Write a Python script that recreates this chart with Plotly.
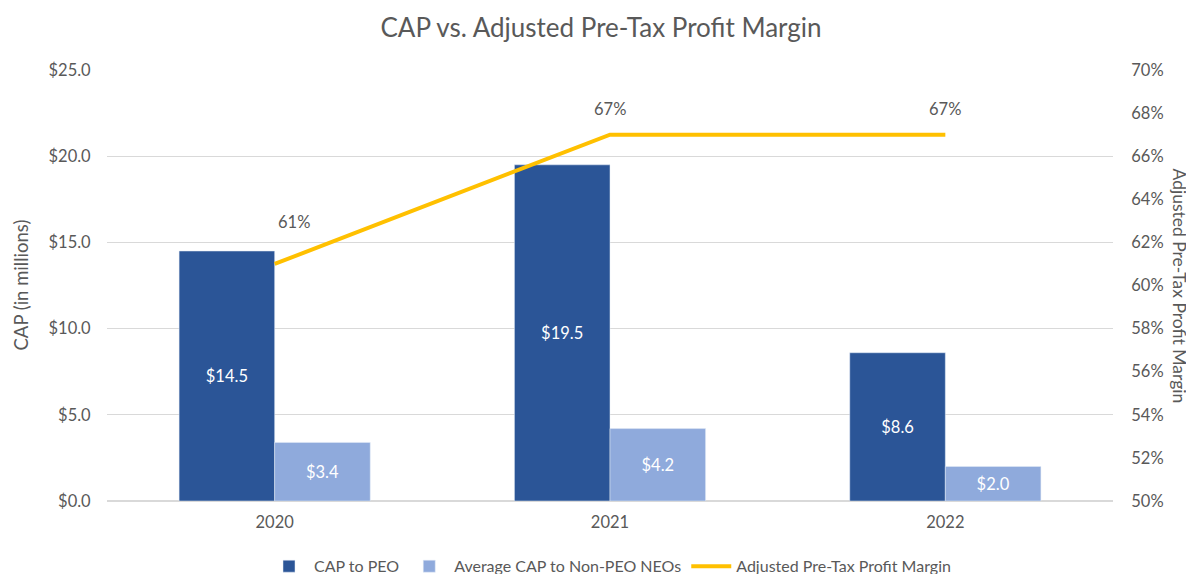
import plotly.graph_objects as go

years = ["2020", "2021", "2022"]
cap_peo = [14.5, 19.5, 8.6]
cap_neo = [3.4, 4.2, 2.0]
margin_pct = [61, 67, 67]

label_xshift = [19, 0, 0]
label_yshift = [42, 26, 26]

FONT = "Lato"
GRAY = "#595959"

fig = go.Figure()
fig.add_trace(go.Bar(
    x=years, y=cap_peo, name="CAP to PEO",
    marker=dict(color="#2B5597"),
    text=[f"${v:.1f}" for v in cap_peo], textposition="inside",
    insidetextanchor="middle", textfont=dict(color="white", size=16.5, family=FONT),
    textangle=0,
))
fig.add_trace(go.Bar(
    x=years, y=cap_neo, name="Average CAP to Non-PEO NEOs",
    marker=dict(color="#8FAADC"),
    text=[f"${v:.1f}" for v in cap_neo], textposition="inside",
    insidetextanchor="middle", textfont=dict(color="white", size=16.5, family=FONT),
    textangle=0,
))
fig.add_trace(go.Scatter(
    x=years, y=margin_pct, name="Adjusted Pre-Tax Profit Margin",
    mode="lines", line=dict(color="#FFC000", width=4), yaxis="y2",
))

for i, (v, xs, ys) in enumerate(zip(margin_pct, label_xshift, label_yshift)):
    fig.add_annotation(x=i, y=v, xref="x", yref="y2", text=f"{v}%",
                       showarrow=False, xshift=xs, yshift=ys,
                       font=dict(size=16.5, color=GRAY, family=FONT))

fig.add_annotation(x=1.0, xref="paper", xanchor="center", xshift=66, y=0.5, yref="paper",
                   yanchor="middle",
                   text="Adjusted Pre-Tax Profit Margin", textangle=90,
                   showarrow=False, font=dict(size=17.5, color=GRAY, family=FONT))
fig.add_annotation(x=0.0, xref="paper", xanchor="center", xshift=-87, y=0.5, yref="paper",
                   yanchor="middle",
                   text="CAP (in millions)", textangle=-90,
                   showarrow=False, font=dict(size=18.5, color=GRAY, family=FONT))

fig.update_layout(
    width=1186, height=566,
    margin=dict(l=99, r=81, t=62, b=73, autoexpand=False),
    paper_bgcolor="white", plot_bgcolor="white",
    font=dict(family=FONT, color=GRAY, size=16),
    title=dict(text="CAP vs. Adjusted Pre-Tax Profit Margin", x=0.5, xanchor="center",
               y=0.965, yanchor="middle", font=dict(size=26, color=GRAY, family=FONT)),
    barmode="group", bargap=0.43, bargroupgap=0,
    showlegend=True,
    legend=dict(orientation="h", x=0.5, xanchor="center", y=-0.112, yanchor="top",
                itemwidth=40, font=dict(size=16, color=GRAY, family=FONT),
                traceorder="normal"),
    xaxis=dict(type="category", showgrid=False, showline=False,
               ticks="outside", ticklen=6, tickcolor="rgba(0,0,0,0)",
               tickfont=dict(size=16.5, color=GRAY)),
    yaxis=dict(range=[0, 25], dtick=5, tickformat="$.1f", showgrid=True,
               gridcolor="#D9D9D9", gridwidth=1, zeroline=True, zerolinecolor="#D9D9D9",
               showline=False, ticks="outside", ticklen=12, tickcolor="rgba(0,0,0,0)",
               tickfont=dict(size=16.5, color=GRAY)),
    yaxis2=dict(range=[50, 70], dtick=2, ticksuffix="%", overlaying="y", side="right",
                showgrid=False, zeroline=False, showline=False,
                ticks="outside", ticklen=14, tickcolor="rgba(0,0,0,0)",
                tickfont=dict(size=16.5, color=GRAY)),
)

fig.write_html("out.html")
